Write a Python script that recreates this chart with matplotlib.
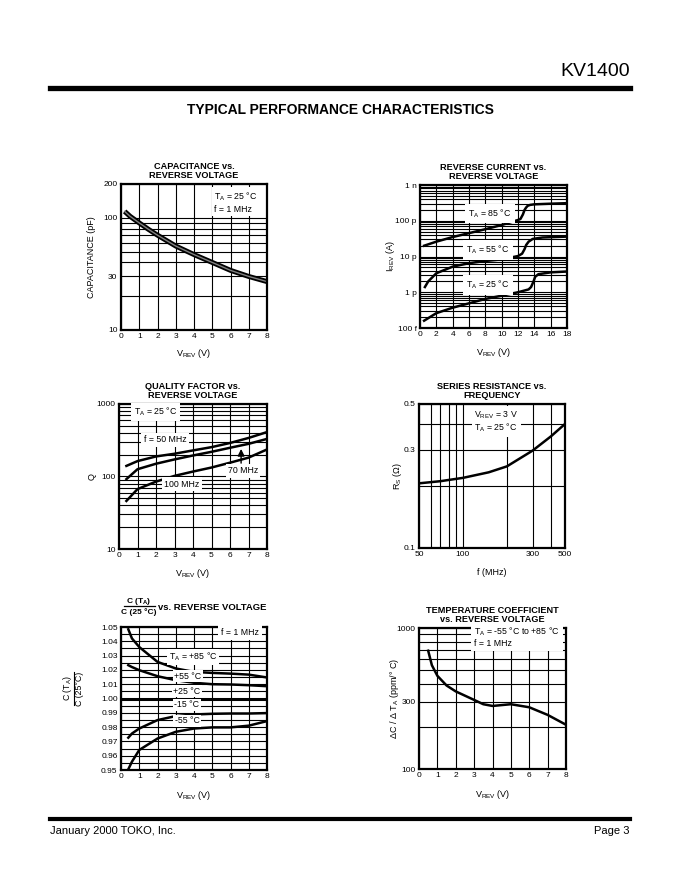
import numpy as np
import matplotlib.pyplot as plt
from matplotlib.lines import Line2D
from matplotlib.ticker import FixedLocator, NullFormatter

plt.rcParams['font.family'] = ['Liberation Sans', 'DejaVu Sans']
plt.rcParams['mathtext.fontset'] = 'custom'
plt.rcParams['mathtext.rm'] = 'Liberation Sans'
plt.rcParams['mathtext.it'] = 'Liberation Sans:italic'
plt.rcParams['mathtext.bf'] = 'Liberation Sans:bold'

# --- data ---
cap_v = [0.2, 0.5, 1, 1.5, 2, 3, 4, 5, 6, 7, 8]
cap_pf = [114, 103, 90, 79, 70, 56, 47, 40, 34, 30, 27]

rev_v_85 = [0.5, 2, 4, 6, 8, 10, 12, 12.3, 12.6, 12.8, 13.0, 13.2, 13.5, 14, 16, 18]
rev_pa_85 = [20, 26, 35, 45, 58, 76, 105, 112, 150, 200, 235, 263, 278, 288, 300, 310]
rev_v_55 = [0.6, 1, 2, 4, 6, 8, 10, 12, 12.5, 12.8, 13.0, 13.3, 13.8, 15, 18]
rev_pa_55 = [1.4, 2.0, 3.4, 5.2, 6.5, 7.5, 8.3, 10.3, 12, 16, 21, 26, 31, 34, 36]
rev_v_25 = [0.5, 2, 4, 6, 8, 10, 12, 13.3, 13.6, 13.9, 14.1, 14.5, 16, 18]
rev_pa_25 = [0.16, 0.26, 0.37, 0.49, 0.65, 0.80, 1.0, 1.2, 1.4, 2.0, 2.7, 3.2, 3.6, 3.8]

q_v = [0.4, 1, 2, 3, 4, 5, 6, 7, 8]
q_50 = [140, 163, 189, 206, 229, 254, 290, 340, 410]
q_70 = [92, 126, 150, 172, 195, 219, 249, 282, 330]
q_100 = [46, 67, 85, 102, 117, 133, 155, 182, 236]

rs_f = [50, 70, 100, 150, 200, 300, 400, 500]
rs_ohm = [0.206, 0.211, 0.219, 0.233, 0.249, 0.297, 0.348, 0.40]

ct_v = [0.4, 0.6, 1, 2, 3, 4, 5, 6, 7, 8]
ct_p85 = [1.0484, 1.042, 1.036, 1.0256, 1.021, 1.0186, 1.0179, 1.0174, 1.0167, 1.0147]
ct_p55 = [1.0233, 1.022, 1.0198, 1.0156, 1.0128, 1.011, 1.010, 1.0098, 1.0093, 1.0086]
ct_m15 = [0.9726, 0.9755, 0.979, 0.9849, 0.9877, 0.9888, 0.9893, 0.9895, 0.9895, 0.9898]
ct_m55 = [0.9505, 0.9558, 0.964, 0.972, 0.9767, 0.979, 0.9798, 0.9798, 0.981, 0.9842]
ct_p25_v = [0, 8]
ct_p25 = [1.0, 1.0]

tc_v = [0.5, 0.7, 1, 1.5, 2, 3, 3.5, 4, 5, 6, 7, 8]
tc_ppm = [690, 545, 458, 391, 355, 309, 288, 280, 288, 274, 242, 206]

W, H = 680, 880
fig = plt.figure(figsize=(6.8, 8.8), dpi=100)
TA = r'T$_{\rm A}$'
VREV = r'V$_{\rm REV}$ (V)'


def panel(x0, y0, x1, y1):
    ax = fig.add_axes([x0 / W, 1 - y1 / H, (x1 - x0) / W, (y1 - y0) / H])
    for s in ax.spines.values():
        s.set_linewidth(1.6)
    ax.tick_params(which='both', length=0, labelsize=6, pad=2.5)
    ax.set_axisbelow(True)
    return ax


def finish(ax, title, xlabel, ylabel, xl, yl):
    ax.grid(True, which='both', color='k', lw=0.8)
    if title:
        ax.set_title(title, fontsize=6.6, fontweight='bold', pad=4, linespacing=1.0)
    ax.set_xlabel(xlabel, fontsize=6.5, va='center')
    ax.xaxis.set_label_coords(0.5, xl)
    if ylabel:
        ax.set_ylabel(ylabel, fontsize=6.5, va='center')
        ax.yaxis.set_label_coords(yl, 0.5)


def note(ax, x, y, s, ha='center', pad=1.2):
    ax.text(x, y, s, transform=ax.transAxes, fontsize=6.3, ha=ha, va='center',
            linespacing=1.15, bbox=dict(fc='white', ec='none', pad=pad), zorder=3)


def volt_axis(ax, top, step=1):
    ax.set_xlim(0, top)
    ax.set_xticks(np.arange(0, top + 1, step))


# header / footer
fig.text(630 / W, 1 - 72 / H, 'KV1400', ha='right', va='center', fontsize=14)
fig.add_artist(Line2D([50 / W, 630 / W], [1 - 88.5 / H] * 2, color='k', lw=3.8))
fig.text(340 / W, 1 - 110 / H, 'TYPICAL PERFORMANCE CHARACTERISTICS', ha='center',
         va='center', fontsize=10, fontweight='bold')
fig.add_artist(Line2D([50 / W, 630 / W], [1 - 818.5 / H] * 2, color='k', lw=3))
fig.text(50 / W, 1 - 831 / H, 'January 2000 TOKO, Inc.', va='center', fontsize=8)
fig.text(630 / W, 1 - 831 / H, 'Page 3', ha='right', va='center', fontsize=8)

# 1: capacitance
ax = panel(121, 184, 267, 330)
ax.plot(cap_v, cap_pf, color='k', lw=3.6, solid_capstyle='butt')
ax.plot(cap_v, cap_pf, color='#808080', lw=1.0)
volt_axis(ax, 8)
ax.set_yscale('log')
ax.set_ylim(10, 200)
ax.yaxis.set_major_locator(FixedLocator([10, 30, 100, 200]))
ax.yaxis.set_minor_locator(FixedLocator([20, 40, 50, 60, 70, 80, 90]))
ax.yaxis.set_minor_formatter(NullFormatter())
ax.set_yticklabels(['10', '30', '100', '200'])
finish(ax, 'CAPACITANCE vs.\nREVERSE VOLTAGE', VREV, 'CAPACITANCE (pF)', -0.164, -0.2)
note(ax, 0.64, 0.875, TA + ' = 25 °C\nf = 1 MHz', ha='left', pad=2)

# 2: reverse current
ax = panel(420, 185, 567, 328)
for v, i in [(rev_v_85, rev_pa_85), (rev_v_55, rev_pa_55), (rev_v_25, rev_pa_25)]:
    ax.plot(v, np.array(i) * 1e-12, color='k', lw=1.8)
volt_axis(ax, 18, 2)
ax.set_yscale('log')
ax.set_ylim(1e-13, 1e-9)
ax.yaxis.set_major_locator(FixedLocator([1e-13, 1e-12, 1e-11, 1e-10, 1e-9]))
minors = [m * 10.0 ** e for e in range(-13, -9) for m in range(2, 10)]
ax.yaxis.set_minor_locator(FixedLocator(minors))
ax.yaxis.set_minor_formatter(NullFormatter())
ax.set_yticklabels(['100 f', '1 p', '10 p', '100 p', '1 n'])
finish(ax, 'REVERSE CURRENT vs.\nREVERSE VOLTAGE', VREV, r'I$_{\rm REV}$ (A)', -0.168, -0.2)
note(ax, 0.476, 0.80, TA + ' = 85 °C', pad=2.5)
note(ax, 0.463, 0.545, TA + ' = 55 °C', pad=2.5)
note(ax, 0.463, 0.30, TA + ' = 25 °C', pad=2.5)

# 3: quality factor
ax = panel(119, 404, 267, 549)
for q in (q_50, q_70, q_100):
    ax.plot(q_v, q, color='k', lw=1.8)
volt_axis(ax, 8)
ax.set_yscale('log')
ax.set_ylim(10, 1000)
ax.yaxis.set_major_locator(FixedLocator([10, 100, 1000]))
ax.yaxis.set_minor_locator(FixedLocator([m * d for d in (10, 100) for m in range(2, 10)]))
ax.yaxis.set_minor_formatter(NullFormatter())
ax.set_yticklabels(['10', '100', '1000'])
finish(ax, 'QUALITY FACTOR vs.\nREVERSE VOLTAGE', VREV, 'Q', -0.166, -0.182)
note(ax, 0.248, 0.947, TA + ' = 25 °C', pad=2)
note(ax, 0.31, 0.752, 'f = 50 MHz', pad=2)
note(ax, 0.838, 0.538, '70 MHz', pad=1.5)
note(ax, 0.426, 0.448, '100 MHz', pad=2)
ax.annotate('', xy=(6.6, 262), xytext=(6.6, 140),
            arrowprops=dict(arrowstyle='-|>', color='k', lw=1.0, mutation_scale=10))

# 4: series resistance
ax = panel(419, 404, 565, 548)
ax.plot(rs_f, rs_ohm, color='k', lw=1.8)
ax.set_xscale('log')
ax.set_xlim(50, 500)
ax.xaxis.set_major_locator(FixedLocator([50, 100, 300, 500]))
ax.xaxis.set_minor_locator(FixedLocator([60, 70, 80, 90, 200, 400]))
ax.xaxis.set_minor_formatter(NullFormatter())
ax.set_xticklabels(['50', '100', '300', '500'])
ax.set_yscale('log')
ax.set_ylim(0.1, 0.5)
ax.yaxis.set_major_locator(FixedLocator([0.1, 0.3, 0.5]))
ax.yaxis.set_minor_locator(FixedLocator([0.2, 0.4]))
ax.yaxis.set_minor_formatter(NullFormatter())
ax.set_yticklabels(['0.1', '0.3', '0.5'])
finish(ax, 'SERIES RESISTANCE vs.\nFREQUENCY', 'f (MHz)', r'R$_{\rm S}$ ($\Omega$)', -0.167, -0.144)
note(ax, 0.379, 0.877, r'V$_{\rm REV}$ = 3 V' + '\n' + TA + ' = 25 °C', ha='left', pad=2)

# 5: C(TA)/C(25 C)
ax = panel(121, 627, 267, 770)
for c in (ct_p85, ct_p55, ct_m15, ct_m55):
    ax.plot(ct_v, c, color='k', lw=1.8)
ax.plot(ct_p25_v, ct_p25, color='k', lw=2.2)
volt_axis(ax, 8)
ax.set_ylim(0.95, 1.05)
yt = np.round(np.arange(0.95, 1.0501, 0.01), 2)
ax.set_yticks(yt)
ax.set_yticklabels(['%.2f' % t for t in yt])
ax.yaxis.set_minor_locator(FixedLocator(np.arange(0.955, 1.05, 0.01)))
finish(ax, None, VREV, None, -0.175, None)
note(ax, 0.815, 0.963, 'f = 1 MHz', pad=2)
note(ax, 0.493, 0.792, TA + ' = +85 °C', pad=1.2)
note(ax, 0.459, 0.657, '+55 °C', pad=1.2)
note(ax, 0.452, 0.552, '+25 °C', pad=1.2)
note(ax, 0.452, 0.455, '-15 °C', pad=1.2)
note(ax, 0.452, 0.343, '-55 °C', pad=1.2)
bold = dict(fontsize=6.0, fontweight='bold', va='center')
fig.text(139 / W, 1 - 601 / H, r'C (T$_\mathbf{A}$)', ha='center', **bold)
fig.add_artist(Line2D([124 / W, 155 / W], [1 - 606 / H] * 2, color='k', lw=0.9))
fig.text(139 / W, 1 - 612 / H, 'C (25 °C)', ha='center', **bold)
fig.text(158 / W, 1 - 607 / H, 'vs. REVERSE VOLTAGE', ha='left', fontsize=6.8,
         fontweight='bold', va='center')
fig.text(68 / W, 1 - 688 / H, r'C (T$_{\rm A}$)', rotation=90, ha='center',
         va='center', fontsize=6.3)
fig.add_artist(Line2D([73.5 / W] * 2, [1 - 672 / H, 1 - 705 / H], color='k', lw=0.8))
fig.text(79.5 / W, 1 - 689 / H, 'C (25°C)', rotation=90, ha='center', va='center',
         fontsize=6.3)

# 6: temperature coefficient
ax = panel(419, 628, 566, 769)
ax.plot(tc_v, tc_ppm, color='k', lw=1.8)
volt_axis(ax, 8)
ax.set_yscale('log')
ax.set_ylim(100, 1000)
ax.yaxis.set_major_locator(FixedLocator([100, 300, 1000]))
ax.yaxis.set_minor_locator(FixedLocator([200, 400, 500, 600, 700, 800, 900]))
ax.yaxis.set_minor_formatter(NullFormatter())
ax.set_yticklabels(['100', '300', '1000'])
finish(ax, 'TEMPERATURE COEFFICIENT\nvs. REVERSE VOLTAGE', VREV,
       r'$\Delta$C / $\Delta$ T$_{\rm A}$ (ppm/° C)', -0.184, -0.17)
note(ax, 0.375, 0.935, TA + ' = -55 °C to +85 °C\nf = 1 MHz', ha='left', pad=2)

fig.savefig('out.png', dpi=100)
